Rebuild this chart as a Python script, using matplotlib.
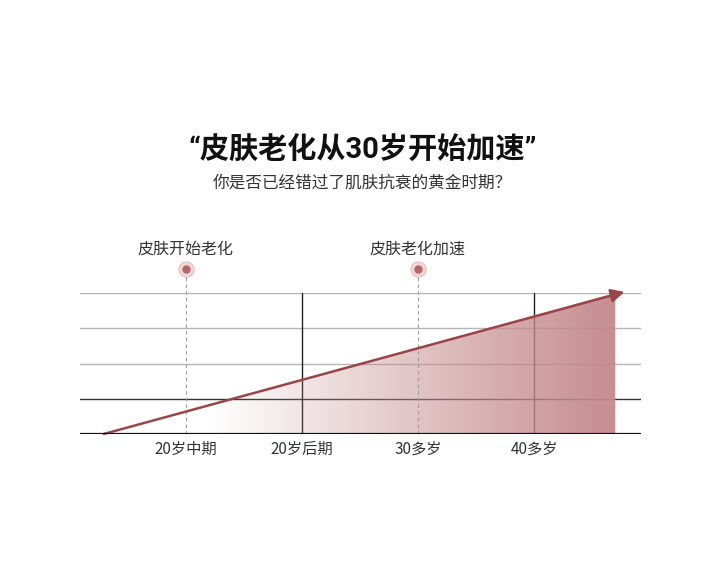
import numpy as np
import matplotlib
matplotlib.use("Agg")
import matplotlib.pyplot as plt
from matplotlib.patches import Polygon

plt.rcParams['font.family'] = ['Noto Sans CJK SC', 'DejaVu Sans']

# 数据
stage_labels = ['20岁中期', '20岁后期', '30多岁', '40多岁']
stage_pos = [1, 2, 3, 4]
grid_levels = [1, 2, 3, 4]
trend_x = [0.29, 4.7]
trend_y = [0.0, 4.0]
marker_pos = [1, 3]
marker_labels = ['皮肤开始老化', '皮肤老化加速']
solid_vlines = [2, 4]

title = '“皮肤老化从30岁开始加速”'
subtitle = '你是否已经错过了肌肤抗衰的黄金时期？'

line_color = '#9a4648'
fill_color = np.array([0.77, 0.54, 0.55])

fig = plt.figure(figsize=(7.25, 5.65), dpi=100)
ax = fig.add_axes([80 / 725, 131 / 565, 561 / 725, 141 / 565])
ax.set_xlim(0.086, 4.922)
ax.set_ylim(0, 4)
for s in ax.spines.values():
    s.set_visible(False)

# 网格线
for lv in grid_levels:
    c = '#333333' if lv == 1 else '#b5b5b5'
    ax.axhline(lv, color=c, lw=1.0, zorder=1)
ax.axhline(0, color='#111111', lw=1.6, zorder=5)
for xv in solid_vlines:
    ax.plot([xv, xv], [0, 4], color='#222222', lw=1.0, zorder=1)

# 渐变填充
xs = np.linspace(trend_x[0], trend_x[1], 400)
alpha = np.clip((xs - 1.2) / 3.4, 0, 1) * 0.95
img = np.zeros((2, len(xs), 4))
img[..., :3] = fill_color
img[..., 3] = alpha
im = ax.imshow(img, extent=[trend_x[0], trend_x[1], 0, 4], aspect='auto',
               origin='lower', zorder=2, interpolation='bilinear')
poly = Polygon([(trend_x[0], trend_y[0]), (trend_x[1], trend_y[1]), (trend_x[1], 0)],
               closed=True, transform=ax.transData, fc='none', ec='none')
ax.add_patch(poly)
im.set_clip_path(poly)

# 趋势线
ax.annotate('', xy=(trend_x[1] + 0.08, trend_y[1] + 0.03), xytext=(trend_x[0], trend_y[0]),
            arrowprops=dict(arrowstyle='-|>,head_length=0.8,head_width=0.4',
                            color=line_color, lw=1.8, shrinkA=0, shrinkB=0),
            zorder=4, annotation_clip=False)

# 虚线和标记
for xp, lab in zip(marker_pos, marker_labels):
    ax.plot([xp, xp], [0, 4.5], color='#999999', lw=0.8, ls=(0, (3, 3)),
            zorder=3, clip_on=False)
    ax.plot(xp, 4.68, 'o', ms=11, color='#f3d7d7', mec='#e2b5b5', mew=0.6,
            clip_on=False, zorder=4)
    ax.plot(xp, 4.68, 'o', ms=5, color='#b86466', clip_on=False, zorder=5)
    ax.text(xp, 5.25, lab, ha='center', va='center', fontsize=11.5,
            color='#333333', clip_on=False)

ax.set_xticks(stage_pos)
ax.set_xticklabels(stage_labels, fontsize=11, color='#333333')
ax.tick_params(axis='x', length=0, pad=5)
ax.set_yticks([])

fig.text(0.5, 1 - 150 / 565, title, ha='center', va='center', fontsize=21,
         fontweight='bold', color='#111111',
         family=['Roboto', 'Noto Sans CJK SC'])
fig.text(0.5, 1 - 183 / 565, subtitle, ha='center', va='center', fontsize=12,
         color='#333333')

fig.savefig('out.png', dpi=100, facecolor='white')
